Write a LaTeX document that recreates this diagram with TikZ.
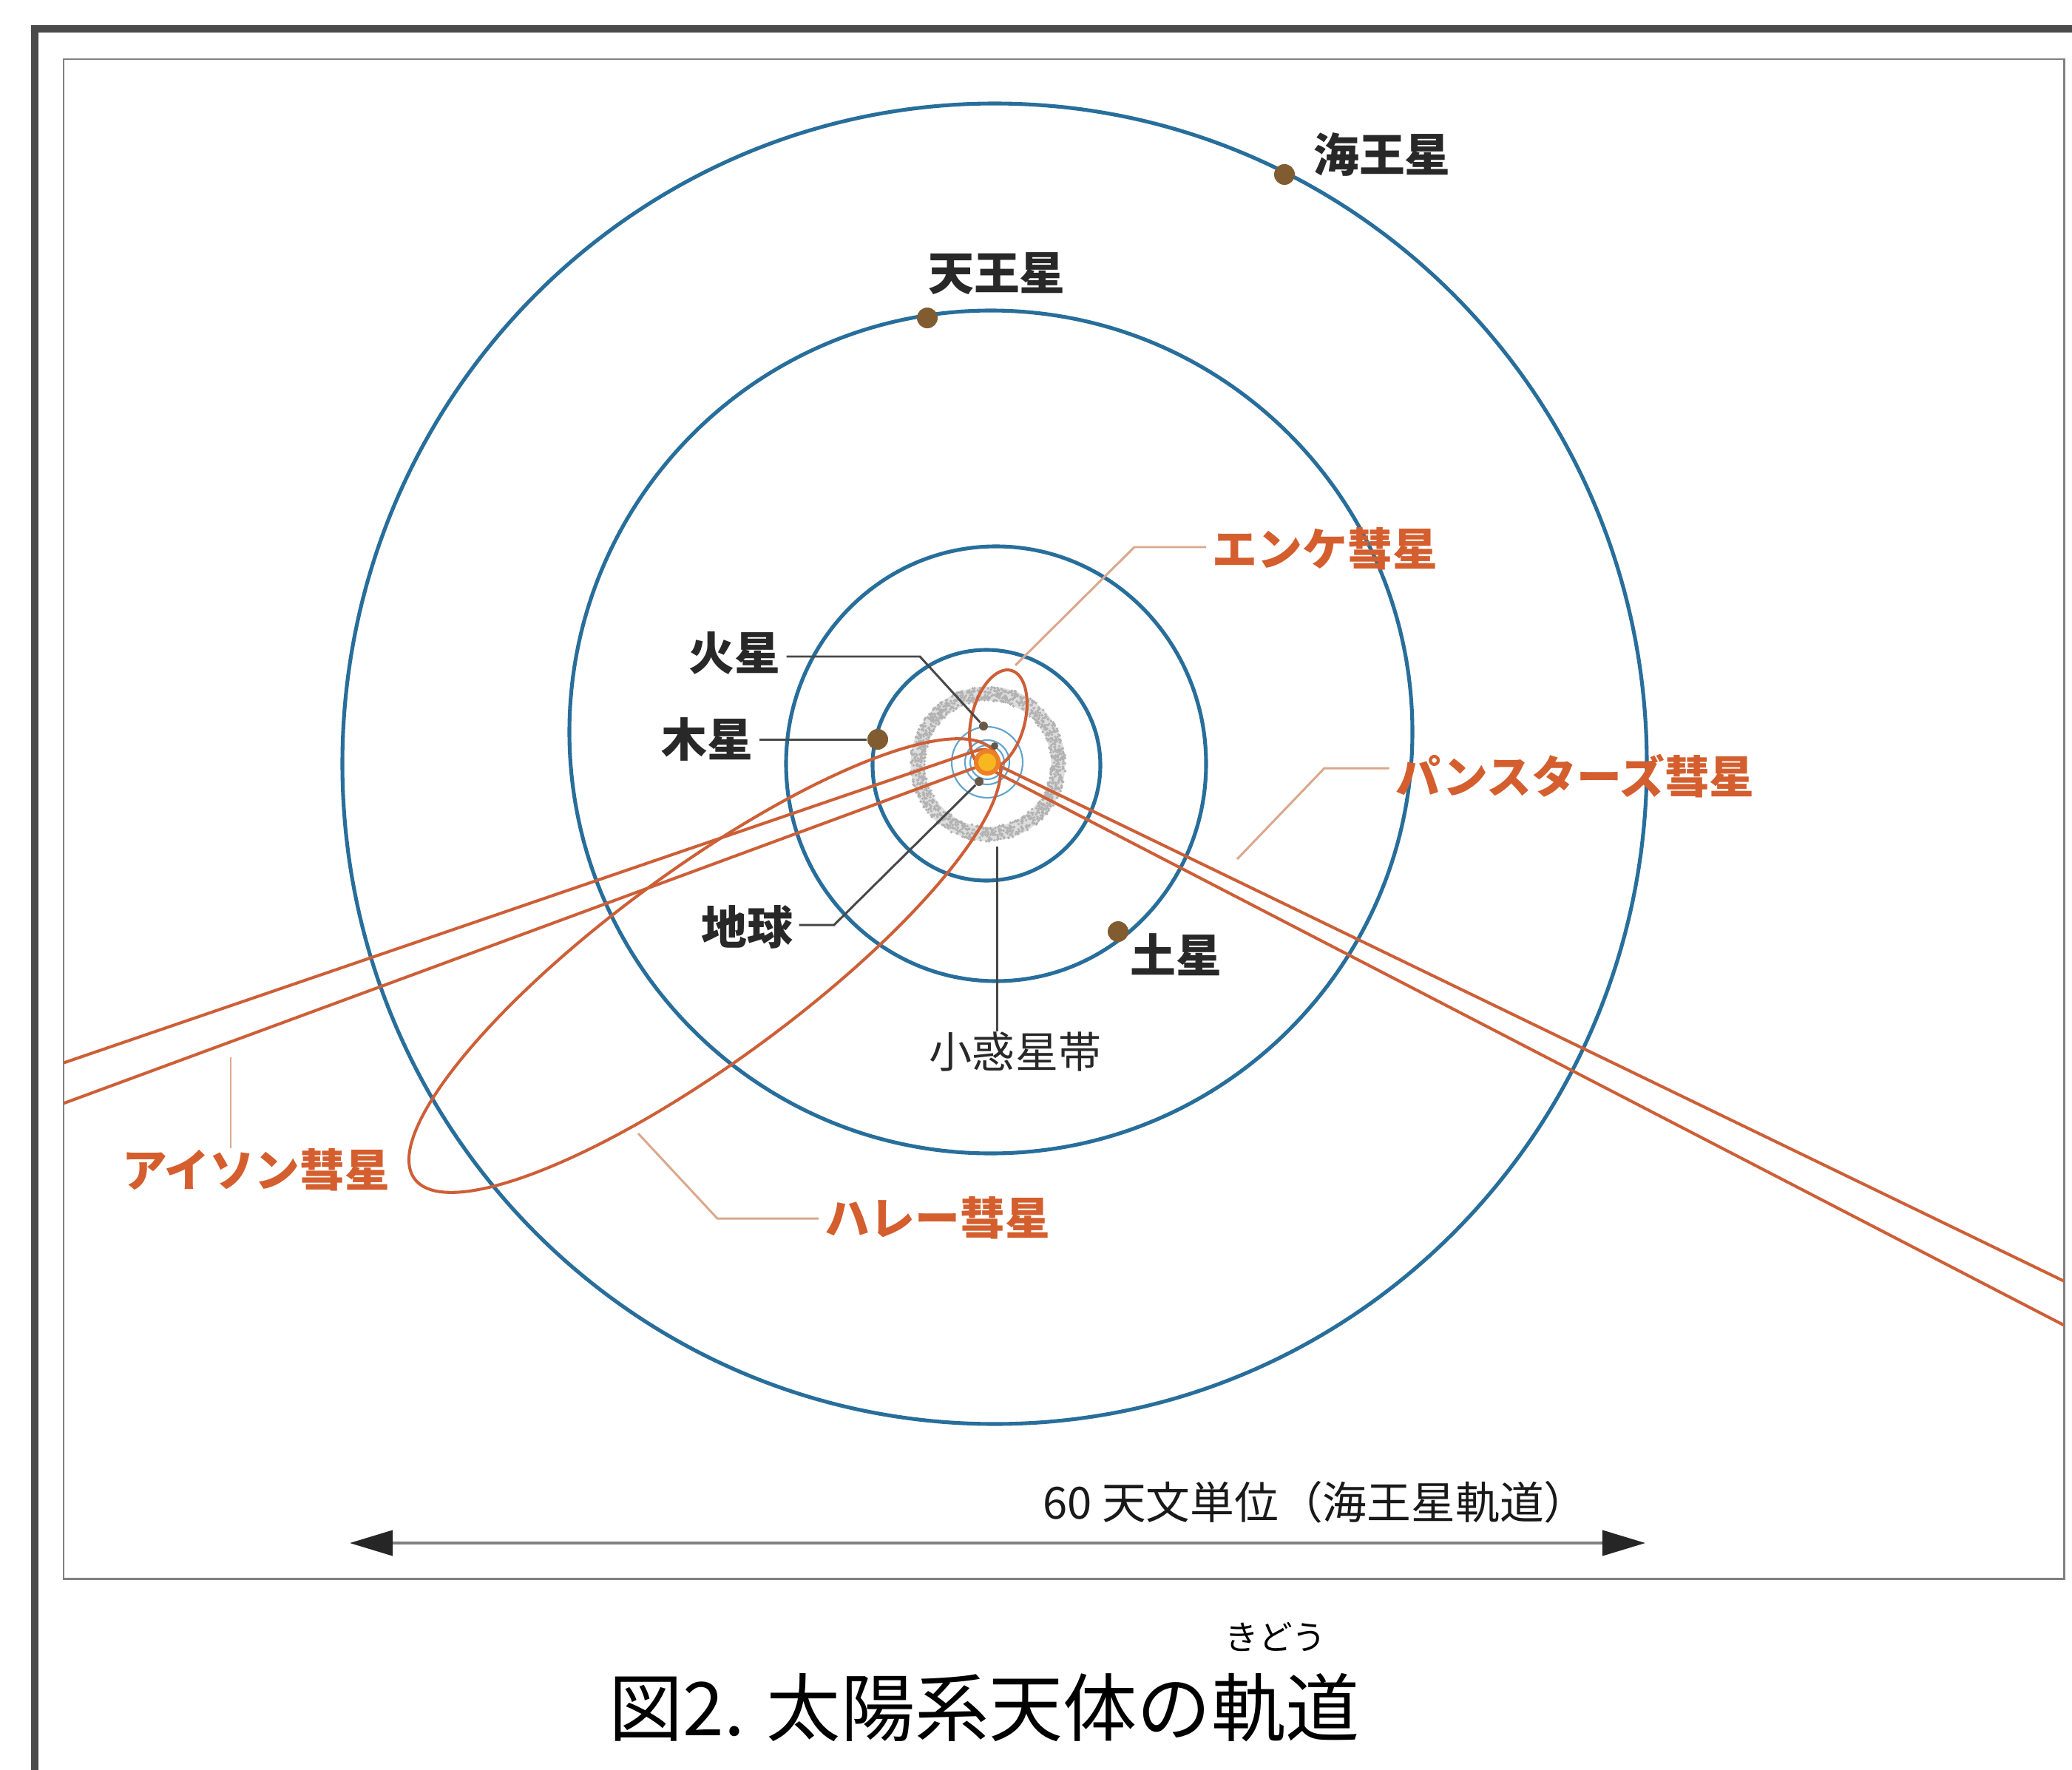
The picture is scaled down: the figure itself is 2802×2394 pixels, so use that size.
\documentclass[tikz,border=0pt]{standalone}
\usepackage{fontspec}
\newfontfamily\jp{Noto Sans CJK JP}
\usetikzlibrary{arrows.meta}

\definecolor{orbit}{RGB}{40,110,155}
\definecolor{innerorbit}{RGB}{95,165,205}
\definecolor{comet}{RGB}{205,95,55}
\definecolor{cometlabel}{RGB}{212,94,46}
\definecolor{cometlead}{RGB}{218,168,140}
\definecolor{planetbrown}{RGB}{128,92,48}
\definecolor{innerplanet}{RGB}{105,88,70}
\definecolor{ink}{RGB}{40,40,40}
\definecolor{framedark}{RGB}{75,75,75}
\definecolor{sunorange}{RGB}{236,128,40}
\definecolor{sunyellow}{RGB}{246,184,30}

\begin{document}
\begin{tikzpicture}[x=0.01cm,y=-0.01cm,
  orbitline/.style={draw=orbit,line width=1.45pt},
  smallorbit/.style={draw=innerorbit,line width=0.6pt},
  cometline/.style={draw=comet,line width=1.15pt},
  planet/.style={circle,fill=planetbrown,inner sep=0pt,minimum size=0.28cm},
  smallplanet/.style={circle,fill=innerplanet,inner sep=0pt,minimum size=0.12cm},
  planetlabel/.style={font=\jp\bfseries\fontsize{17.6pt}{20pt}\selectfont,text=ink,inner xsep=0.08cm,inner ysep=0pt},
  plainlabel/.style={font=\jp\fontsize{16.5pt}{20pt}\selectfont,text=ink,inner sep=0pt},
  cometname/.style={font=\jp\bfseries\fontsize{17.3pt}{20pt}\selectfont,text=cometlabel,inner xsep=0.08cm,inner ysep=0pt},
  pleader/.style={draw=ink!85,line width=0.85pt},
  cleader/.style={draw=cometlead,line width=0.85pt},
  scaleline/.style={draw=black!50,line width=1.15pt}
]
\useasboundingbox (0,0) rectangle (2802,2394);
\fill[white] (0,0) rectangle (2802,2394);

% outer and inner frames
\draw[framedark,line width=2.6pt] (47,39) rectangle (2950,2550);
\draw[black!50,line width=0.85pt] (86,80) rectangle (2791,2135);

% asteroid belt: a soft grey band sprinkled with small grains
\draw[black!13,line width=5.4pt] (1336,1033) circle (95);
\pgfmathsetseed{42}
\foreach \k in {1,...,1300}{
  \pgfmathsetmacro{\ang}{360*rnd}
  \pgfmathsetmacro{\rad}{85+20*rnd}
  \fill[black!30] ({1336+\rad*cos(\ang)},{1033+\rad*sin(\ang)}) circle (1.9);
}

% planetary orbits
\draw[orbitline] (1345,1033) ellipse [x radius=882, y radius=893];
\draw[orbitline] (1340,990) circle (570);
\draw[orbitline] (1347,1033) ellipse [x radius=284, y radius=294];
\draw[orbitline] (1334,1035) ellipse [x radius=154, y radius=156];
\draw[smallorbit] (1335,1031) circle (48);
\draw[smallorbit] (1335,1031) circle (30);
\draw[smallorbit] (1335,1031) circle (23);
\draw[smallorbit] (1335,1031) circle (12);

% comet orbits
\begin{scope}
  \clip (86,80) rectangle (2791,2135);
  % ISON
  \draw[cometline] (0,1467) -- (1318,1016) .. controls (1352,1005) and (1360,1042) .. (1322,1037) -- (0,1524);
  % Pan-STARRS
  \draw[cometline] (2802,1738) -- (1335,1028) .. controls (1315,1018) and (1315,1028) .. (1335,1038.5) -- (2802,1798);
  % Halley
  \draw[cometline,rotate around={36.3:(953,1306)}] (953,1306) ellipse [x radius=487, y radius=130];
  % Encke
  \draw[cometline,rotate around={75.4:(1350,973)}] (1350,973) ellipse [x radius=68.5, y radius=36];
\end{scope}

% planets
\node[planet] (jupiter) at (1187,1000) {};
\node[planet] (saturn) at (1512,1260) {};
\node[planet] (uranus) at (1254,430) {};
\node[planet] (neptune) at (1737,236) {};
\node[smallplanet] (mars) at (1330,982) {};
\node[smallplanet] (earth) at (1324,1057) {};
\node[smallplanet,minimum size=0.1cm] (venus) at (1345,1009) {};

% the Sun
\node[circle,fill=sunorange,inner sep=0pt,minimum size=0.36cm] (sun) at (1335,1031) {};
\fill[sunyellow] (sun.center) circle (12);

% planet labels
\node[planetlabel] (lNeptune) at (1869,209) {海王星};
\node[planetlabel] (lUranus) at (1348,370) {天王星};
\node[planetlabel] (lMars) at (993,883) {火星};
\node[planetlabel] (lJupiter) at (956,1000) {木星};
\node[planetlabel] (lEarth) at (1010,1254) {地球};
\node[planetlabel] (lSaturn) at (1590,1291) {土星};
\node[plainlabel] (lBelt) at (1373,1422) {小惑星帯};

\coordinate (marsBend) at (1244,888);
\coordinate (earthBend) at (1128,1251);
\coordinate (beltTop) at (1348,1145);
\draw[pleader] (lMars.east |- marsBend) -- (marsBend) -- (mars);
\draw[pleader] (lJupiter.east |- jupiter) -- (jupiter.west);
\draw[pleader] (lEarth.east |- earthBend) -- (earthBend) -- (earth);
\draw[pleader] (beltTop) -- (beltTop |- lBelt.north) ++(0,-40);
\draw[pleader] (beltTop) -- (1348,1382);

% comet labels
\node[cometname] (lEncke) at (1792,742) {エンケ彗星};
\node[cometname] (lPan) at (2130,1050) {パンスターズ彗星};
\node[cometname] (lIson) at (346,1582) {アイソン彗星};
\node[cometname] (lHalley) at (1268,1647) {ハレー彗星};

\coordinate (enckeTip) at (1373,900);
\coordinate (enckeBend) at (1534,740);
\coordinate (panTip) at (1673,1162);
\coordinate (panBend) at (1791,1039);
\coordinate (isonTop) at (312,1430);
\coordinate (halleyTip) at (863,1533);
\coordinate (halleyBend) at (970,1648);
\draw[cleader] (enckeTip) -- (enckeBend) -- (lEncke.west |- enckeBend);
\draw[cleader] (panTip) -- (panBend) -- (lPan.west |- panBend);
\draw[cleader] (isonTop) -- (isonTop |- lIson.north);
\draw[cleader] (halleyTip) -- (halleyBend) -- (lHalley.west |- halleyBend);

% scale bar
\node[font=\jp\fontsize{17pt}{20pt}\selectfont,text=black!90,inner sep=0pt] (scaleText) at (1779,2032) {60 天文単位（海王星軌道）};
\coordinate (scaleL) at (473,2087);
\coordinate (scaleR) at (2225,2087);
\draw[scaleline,{Triangle[length=0.58cm,width=0.34cm,color=black!85]}-{Triangle[length=0.58cm,width=0.34cm,color=black!85]}] (scaleL) -- (scaleR);

% caption
\node[font=\jp\fontsize{28.5pt}{32pt}\selectfont,text=black,inner sep=0pt] (title) at (1331,2310) {図2. 太陽系天体の軌道};
\node[font=\jp\fontsize{13pt}{15pt}\selectfont,text=black,inner sep=0pt] (ruby) at (1725,2214) {きどう};
\end{tikzpicture}
\end{document}
